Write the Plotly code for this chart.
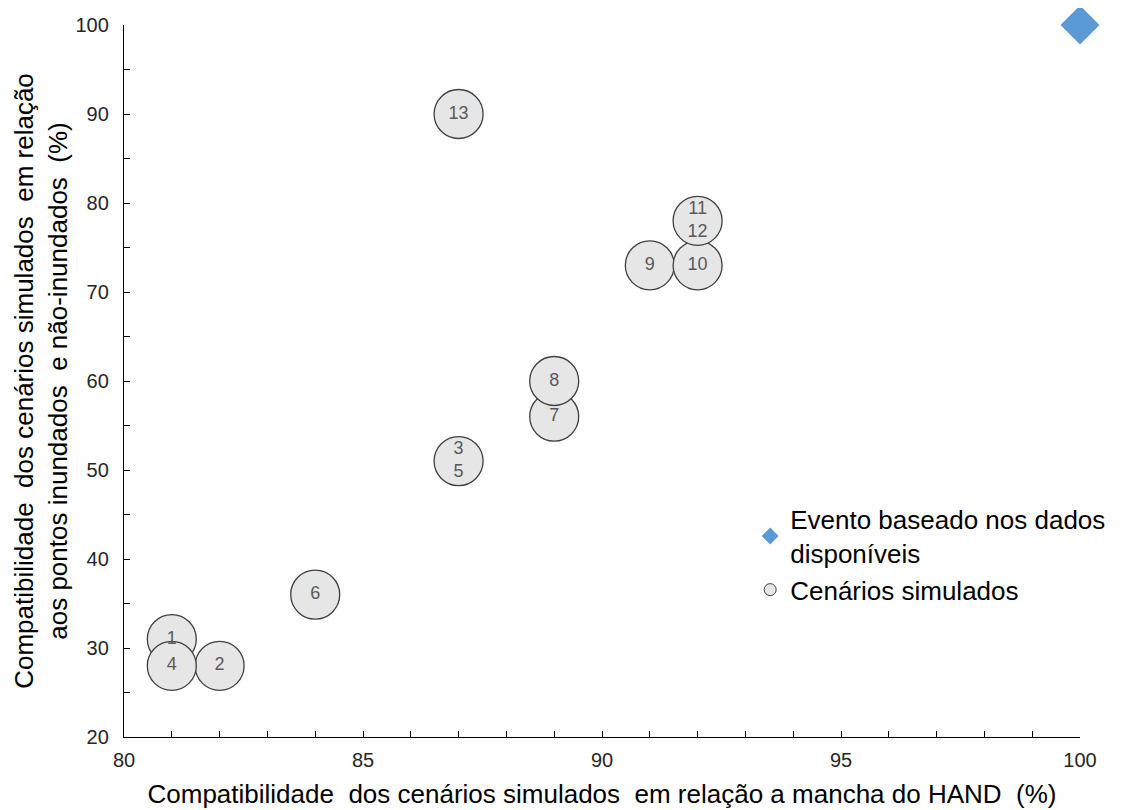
import plotly.graph_objects as go

# Cenários simulados (compatibilidade HAND x compatibilidade pontos)
cenarios_hand = [81, 82, 87, 81, 84, 89, 89, 91, 92, 92, 87]
cenarios_pontos = [31, 28, 51, 28, 36, 56, 60, 73, 73, 78, 90]
cenarios_rotulos = ["1", "2", "3<br>5", "4", "6", "7", "8", "9", "10", "11<br>12", "13"]

# Evento baseado nos dados disponíveis
evento_hand = [100]
evento_pontos = [100]

fonte = "Liberation Sans, Arial, sans-serif"

fig = go.Figure()

# pontos do gráfico (sem legenda)
fig.add_trace(go.Scatter(
    x=evento_hand, y=evento_pontos, mode="markers",
    marker=dict(symbol="diamond", size=30, color="#5b9bd5"),
    showlegend=False, cliponaxis=False
))
fig.add_trace(go.Scatter(
    x=cenarios_hand, y=cenarios_pontos, mode="markers+text",
    text=cenarios_rotulos, textposition="middle center",
    textfont=dict(family=fonte, size=18, color="#595959"),
    marker=dict(symbol="circle", size=49, color="#e6e6e6",
                line=dict(color="#404040", width=1.3)),
    showlegend=False, cliponaxis=False
))

# entradas da legenda com marcadores pequenos
fig.add_trace(go.Scatter(
    x=[None], y=[None], mode="markers",
    marker=dict(symbol="diamond", size=13, color="#5b9bd5"),
    name="Evento baseado nos dados<br>disponíveis"
))
fig.add_trace(go.Scatter(
    x=[None], y=[None], mode="markers",
    marker=dict(symbol="circle", size=12, color="#e6e6e6",
                line=dict(color="#404040", width=1)),
    name="Cenários simulados"
))

fig.update_xaxes(
    range=[80, 100], tickvals=[80, 85, 90, 95, 100], automargin=False,
    showline=True, linecolor="#000000", linewidth=1.3,
    ticks="inside", ticklen=6, tickcolor="#000000",
    minor=dict(ticks="inside", dtick=1, ticklen=6, tickcolor="#000000"),
    showgrid=False, zeroline=False,
    tickfont=dict(family=fonte, size=20, color="#262626"), ticklabelstandoff=5,
    title=dict(text="Compatibilidade  dos cenários simulados  em relação a mancha do HAND  (%)",
               font=dict(family=fonte, size=26, color="#000000"), standoff=14)
)
fig.update_yaxes(
    range=[20, 100], tickvals=[20, 30, 40, 50, 60, 70, 80, 90, 100], automargin=False,
    showline=True, linecolor="#000000", linewidth=1.3,
    ticks="inside", ticklen=6, tickcolor="#000000",
    minor=dict(ticks="inside", dtick=5, ticklen=6, tickcolor="#000000"),
    showgrid=False, zeroline=False,
    tickfont=dict(family=fonte, size=20, color="#262626"), ticklabelstandoff=10,
    title=dict(text="Compatibilidade  dos cenários simulados  em relação<br>aos pontos inundados  e não-inundados  (%)",
               font=dict(family=fonte, size=26, color="#000000"), standoff=0)
)

fig.update_layout(
    width=1121, height=810,
    margin=dict(l=116, r=49, t=17, b=81),
    plot_bgcolor="white", paper_bgcolor="white",
    legend=dict(x=0.655, y=0.339, xanchor="left", yanchor="top",
                font=dict(family=fonte, size=26, color="#000000"),
                itemwidth=30, tracegroupgap=0, bgcolor="rgba(0,0,0,0)")
)

fig.write_html("out.html")
